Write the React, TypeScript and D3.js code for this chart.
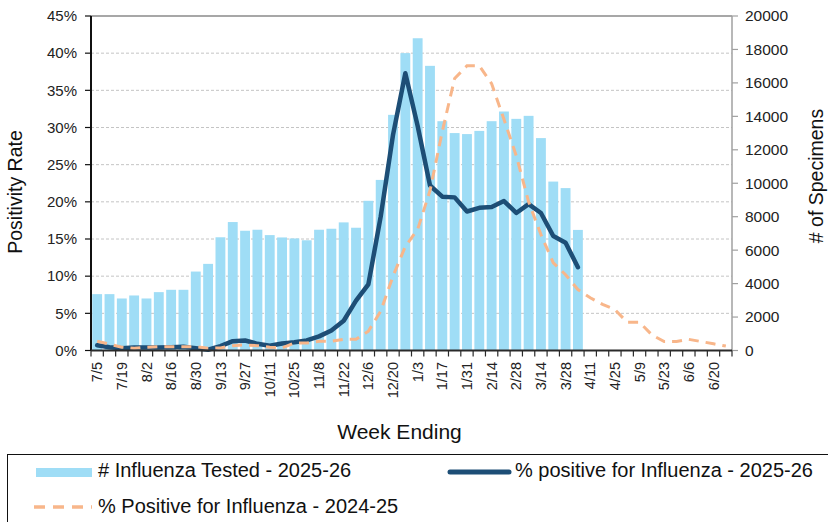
import React from "react";
import * as d3 from "d3";

const weeks = [
  "7/5","7/12","7/19","7/26","8/2","8/9","8/16","8/23","8/30","9/6","9/13","9/20","9/27",
  "10/4","10/11","10/18","10/25","11/1","11/8","11/15","11/22","11/29","12/6","12/13","12/20","12/27",
  "1/3","1/10","1/17","1/24","1/31","2/7","2/14","2/21","2/28","3/7","3/14","3/21","3/28",
  "4/4","4/11","4/18","4/25","5/2","5/9","5/16","5/23","5/30","6/6","6/13","6/20","6/27",
];

// # Influenza Tested - 2025-26 (right axis)
const tested2526 = [
  3370, 3370, 3110, 3290, 3110, 3490, 3630, 3630, 4720, 5180, 6770, 7680, 7160, 7220, 6900, 6760,
  6700, 6590, 7220, 7280, 7660, 7340, 8950, 10200, 14090, 17780, 18670, 17020, 13710, 13000, 12940,
  13130, 13710, 14290, 13850, 14030, 12700, 10100, 9710, 7210,
];

// % positive for Influenza - 2025-26 (left axis)
const pos2526 = [
  0.7, 0.45, 0.3, 0.4, 0.4, 0.4, 0.45, 0.5, 0.3, 0.1, 0.6, 1.25, 1.35, 0.9, 0.65, 0.95, 1.1, 1.35,
  1.9, 2.7, 4.0, 6.7, 8.9, 18.0, 29.0, 37.3, 30.2, 22.2, 20.7, 20.6, 18.7, 19.2, 19.3, 20.1, 18.5,
  19.7, 18.5, 15.4, 14.5, 11.2,
];

// % Positive for Influenza - 2024-25 (left axis)
const pos2425 = [
  1.25, 0.85, 0.45, 0.3, 0.45, 0.5, 0.5, 0.5, 0.5, 0.3, 0.35, 0.65, 0.75, 0.65, 0.45, 0.35, 1.0, 1.0,
  1.25, 1.25, 1.5, 1.5, 2.6, 5.3, 10.0, 14.0, 16.3, 21.5, 29.5, 36.6, 38.3, 38.3, 35.9, 31.1, 26.2,
  20.0, 15.6, 11.8, 10.2, 8.2, 7.1, 6.2, 5.5, 3.8, 3.8, 2.1, 1.2, 1.2, 1.5, 1.2, 0.9, 0.6,
];

const leftTicks = [0, 5, 10, 15, 20, 25, 30, 35, 40, 45];
const rightTicks = [0, 2000, 4000, 6000, 8000, 10000, 12000, 14000, 16000, 18000, 20000];

const legendLabels = [
  "# Influenza Tested - 2025-26",
  "% positive for Influenza - 2025-26",
  "% Positive for Influenza - 2024-25",
];

const BAR = "#9FDDF6";
const NAVY = "#1D4E76";
const ORANGE = "#F8B68A";
const FONT = "'Liberation Sans', Arial, sans-serif";

export default function App() {
  const W = 828, H = 522;
  const X0 = 91, X1 = 732, Y0 = 16, Y1 = 350.5;

  const x = d3.scaleBand<string>().domain(weeks).range([X0, X1]).padding(0);
  const bw = x.bandwidth();
  const cx = (i: number) => (x(weeks[i]) as number) + bw / 2;
  const yL = d3.scaleLinear().domain([0, 45]).range([Y1, Y0]);
  const yR = d3.scaleLinear().domain([0, 20000]).range([Y1, Y0]);

  const line = d3
    .line<number>()
    .x((_, i) => cx(i))
    .y((d) => yL(d))
    .curve(d3.curveLinear);

  return (
    <svg
      width={W}
      height={H}
      viewBox={`0 0 ${W} ${H}`}
      style={{ position: "absolute", left: 0, top: 0, fontFamily: FONT }}
    >
      <rect x={0} y={0} width={W} height={H} fill="#fff" />

      {/* gridlines */}
      {leftTicks
        .filter((t) => t > 0 && t < 45)
        .map((t) => (
          <line key={"g" + t} x1={X0} x2={X1} y1={yL(t)} y2={yL(t)} stroke="#C4C4C4" strokeWidth={1} strokeDasharray="3,2" />
        ))}

      {/* bars */}
      {tested2526.map((v, i) => (
        <rect key={"b" + i} x={(x(weeks[i]) as number) + bw * 0.1} y={yR(v)} width={bw * 0.8} height={Y1 - yR(v)} fill={BAR} />
      ))}

      {/* lines */}
      <path d={line(pos2526) || ""} fill="none" stroke={NAVY} strokeWidth={4.5} strokeLinejoin="round" strokeLinecap="round" />
      <path d={line(pos2425) || ""} fill="none" stroke={ORANGE} strokeWidth={3} strokeDasharray="10,7" />

      {/* frame / axes */}
      <line x1={X0} x2={X1} y1={Y0} y2={Y0} stroke="#8A8A8A" strokeWidth={1.5} />
      <line x1={X1} x2={X1} y1={Y0} y2={Y1} stroke="#A0A0A0" strokeWidth={1.5} />
      {rightTicks.map((t) => (
        <g key={"r" + t}>
          <line x1={X1} x2={X1 + 6} y1={yR(t)} y2={yR(t)} stroke="#A0A0A0" strokeWidth={1.2} />
          <text x={745} y={yR(t)} dy="0.35em" fontSize={15.5} fill="#222">
            {t}
          </text>
        </g>
      ))}
      <line x1={X0} x2={X0} y1={Y0} y2={Y1} stroke="#111" strokeWidth={2} />
      {leftTicks.map((t) => (
        <g key={"l" + t}>
          <line x1={X0 - 6} x2={X0} y1={yL(t)} y2={yL(t)} stroke="#111" strokeWidth={1.2} />
          <text x={77} y={yL(t)} dy="0.35em" textAnchor="end" fontSize={15} fill="#222">
            {t + "%"}
          </text>
        </g>
      ))}
      <line x1={X0} x2={X1} y1={Y1} y2={Y1} stroke="#2a2a2a" strokeWidth={2} />
      {d3.range(weeks.length + 1).map((i) => {
        const xx = X0 + i * bw;
        return <line key={"t" + i} x1={xx} x2={xx} y1={Y1} y2={Y1 + 6} stroke="#2a2a2a" strokeWidth={1.2} />;
      })}
      {weeks.map((w, i) =>
        i % 2 === 0 ? (
          <text
            key={"x" + i}
            transform={`translate(${cx(i)},${362}) rotate(-90)`}
            textAnchor="end"
            dy="0.35em"
            fontSize={14.5}
            fill="#222"
          >
            {w}
          </text>
        ) : null
      )}

      {/* axis titles */}
      <text transform={`translate(22,192) rotate(-90)`} textAnchor="middle" fontSize={19.5} fill="#111">
        Positivity Rate
      </text>
      <text transform={`translate(823,176) rotate(-90)`} textAnchor="middle" fontSize={19.5} fill="#111">
        # of Specimens
      </text>
      <text x={399.5} y={439} textAnchor="middle" fontSize={21} fill="#111">
        Week Ending
      </text>

      {/* legend */}
      <rect x={7.5} y={454.5} width={830} height={100} fill="#fff" stroke="#111" strokeWidth={1} />
      <rect x={36} y={468} width={56} height={9} fill={BAR} />
      <text x={98} y={477} fontSize={20} fill="#111">{legendLabels[0]}</text>
      <line x1={450} x2={509} y1={472} y2={472} stroke={NAVY} strokeWidth={5} strokeLinecap="round" />
      <text x={515} y={477} fontSize={20} fill="#111">{legendLabels[1]}</text>
      <line x1={34} x2={92} y1={507} y2={507} stroke={ORANGE} strokeWidth={3.5} strokeDasharray="11,8" />
      <text x={98} y={513} fontSize={20} fill="#111">{legendLabels[2]}</text>
    </svg>
  );
}
